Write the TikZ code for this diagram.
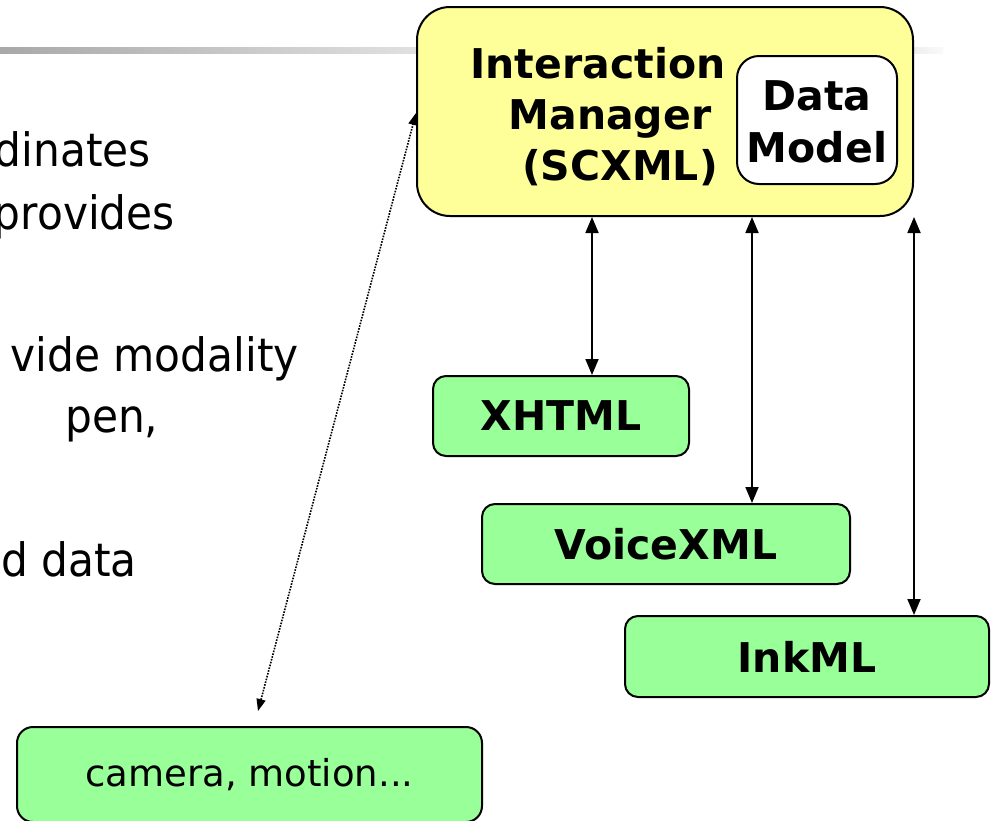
\documentclass[tikz,border=0pt]{standalone}
\usepackage{fontspec}
\setmainfont{DejaVu Sans}
\newfontfamily\bodyfont[FakeStretch=0.92]{DejaVu Sans}
\usetikzlibrary{arrows.meta}

\definecolor{imyellow}{HTML}{FFFF99}
\definecolor{modgreen}{HTML}{99FF99}

\tikzset{
  imbox/.style={draw=black, line width=2pt, fill=imyellow, rounded corners=33pt, inner sep=0pt},
  dmbox/.style={draw=black, line width=2pt, fill=white, rounded corners=22pt, inner sep=0pt},
  modbox/.style={draw=black, line width=2pt, fill=modgreen, rounded corners=13pt, inner sep=0pt,
    minimum height=80pt, font=\fontsize{41}{50}\selectfont\bfseries},
  cambox/.style={draw=black, line width=2pt, fill=modgreen, rounded corners=16pt, inner sep=0pt,
    font=\fontsize{37}{44}\selectfont},
  boldlbl/.style={inner sep=0pt, anchor=base, font=\fontsize{41}{50}\selectfont\bfseries},
  bodytxt/.style={inner sep=0pt, anchor=base east, font=\bodyfont\fontsize{46}{55}\selectfont},
  link/.style={line width=1.8pt, {Triangle[length=16pt,width=13pt]}-{Triangle[length=16pt,width=13pt]}},
  dotlink/.style={line width=1.6pt, dash pattern=on 1.6pt off 1.3pt,
    {Triangle[length=12pt,width=9pt]}-{Triangle[length=12pt,width=9pt]}}
}

\begin{document}
\begin{tikzpicture}[x=1pt, y=-1pt]
  \useasboundingbox (0,0) rectangle (991,820);
  \clip (0,0) rectangle (991,820);

  % title rule fading to the right
  \shade[left color=black!34, right color=black!12] (0,47) rectangle (418,53);
  \shade[left color=black!7, right color=black!2] (912,47) rectangle (943,53);

  % slide body text
  \node[bodytxt] (t1) at (151,166) {dinates};
  \node[bodytxt] (t2) at (175,229) {provides};
  \node[bodytxt] (t3) at (299,371) {vide modality};
  \node[bodytxt, anchor=base west] (t4) at (65,432) {pen,};
  \node[bodytxt, anchor=base west] (t5) at (1,576) {d data};

  % interaction manager with its data model
  \node[imbox, minimum width=496pt, minimum height=209pt] (im) at (665,111.5) {};
  \node[boldlbl] (imA) at (598,78) {Interaction};
  \node[boldlbl] (imB) at (610,129) {Manager};
  \node[boldlbl] (imC) at (620,180) {(SCXML)};
  \node[dmbox, minimum width=160pt, minimum height=128pt] (dm) at (817,120) {};
  \node[boldlbl] (dmA) at (817,110) {Data};
  \node[boldlbl] (dmB) at (817,162) {Model};

  % modality components
  \node[modbox, minimum width=256pt] (xh) at (561,416) {XHTML};
  \node[modbox, minimum width=368pt] (vx) at (666,544) {VoiceXML};
  \node[modbox, minimum width=364pt, minimum height=81pt] (ink) at (807,656.5) {InkML};
  \node[cambox, minimum width=465pt, minimum height=95pt] (cam) at (249.5,774.5) {camera, motion...};

  % event links
  \coordinate (pa) at ([xshift=176pt]im.south west);
  \coordinate (pb) at ([xshift=336pt]im.south west);
  \draw[link] (pa) -- (pa |- xh.north);
  \draw[link] (pb) -- (pb |- vx.north);
  \draw[link] (im.south east) -- (im.south east |- ink.north);

  \coordinate (qa) at (im.west |- 0,113);
  \coordinate (qb) at (258,711);
  \draw[dotlink] (qb) -- (qa);
\end{tikzpicture}
\end{document}
